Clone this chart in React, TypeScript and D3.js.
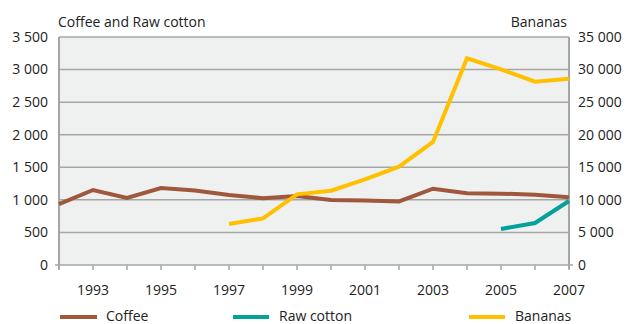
import React from "react";
import * as d3 from "d3";

const years = [1992,1993,1994,1995,1996,1997,1998,1999,2000,2001,2002,2003,2004,2005,2006,2007];
const coffee = [936,1151,1028,1182,1145,1075,1025,1060,998,990,975,1171,1100,1095,1080,1040];
const cottonYears = [2005,2006,2007];
const cotton = [553,645,982];
const bananaYears = [1997,1998,1999,2000,2001,2002,2003,2004,2005,2006,2007];
const bananas = [6290,7160,10850,11400,13150,15100,18900,31730,30040,28140,28600];
const leftTicks = [0,500,1000,1500,2000,2500,3000,3500];
const rightTicks = [0,5000,10000,15000,20000,25000,30000,35000];
const yearLabels = [1993,1995,1997,1999,2001,2003,2005,2007];

const W = 631, H = 324;
const L = 59, R = 569, T = 37, B = 265;
const FONT = "'Open Sans', 'Noto Sans', sans-serif";
const GRID = "#a6a6a6";
const fmt = (v: number) => d3.format(",")(v).replace(/,/g, " ");

export default function App() {
  const x = d3.scaleLinear().domain([1992, 2007]).range([L, R]);
  const yL = d3.scaleLinear().domain([0, 3500]).range([B, T]);
  const yR = d3.scaleLinear().domain([0, 35000]).range([B, T]);
  const lineL = d3.line<[number, number]>().x(d => x(d[0])).y(d => yL(d[1]));
  const lineR = d3.line<[number, number]>().x(d => x(d[0])).y(d => yR(d[1]));
  const coffeeD = lineL(years.map((y, i) => [y, coffee[i]]) as [number, number][])!;
  const cottonD = lineL(cottonYears.map((y, i) => [y, cotton[i]]) as [number, number][])!;
  const bananaD = lineR(bananaYears.map((y, i) => [y, bananas[i]]) as [number, number][])!;
  const legend = [
    { label: "Coffee", color: "#a0583c", x1: 60, x2: 97, tx: 106 },
    { label: "Raw cotton", color: "#00a29a", x1: 233, x2: 269, tx: 279 },
    { label: "Bananas", color: "#ffc000", x1: 469, x2: 505, tx: 515 },
  ];
  return (
    <svg width={W} height={H} style={{ position: "absolute", left: 0, top: 0 }} fontFamily={FONT}>
      <rect x={0} y={0} width={W} height={H} fill="#fff" />
      <rect x={L} y={T} width={R - L} height={B - T} fill="#eff0f0" />
      {leftTicks.map(t => (
        <line key={"g" + t} x1={L} x2={R} y1={yL(t)} y2={yL(t)} stroke={GRID} strokeWidth={1.5} />
      ))}
      <line x1={L} x2={L} y1={T} y2={B + 4} stroke={GRID} strokeWidth={2} />
      <line x1={R} x2={R} y1={T} y2={B + 4} stroke={GRID} strokeWidth={2} />
      <line x1={L - 4} x2={L} y1={B} y2={B} stroke={GRID} strokeWidth={1.5} />
      <line x1={R} x2={R + 4} y1={B} y2={B} stroke={GRID} strokeWidth={1.5} />
      {years.map(y => (
        <line key={"t" + y} x1={x(y)} x2={x(y)} y1={B} y2={B + 5} stroke={GRID} strokeWidth={1.5} />
      ))}
      {leftTicks.map(t => (
        <text key={"l" + t} x={48} y={yL(t)} dy="0.35em" textAnchor="end" fontSize={14} fill="#222">{fmt(t)}</text>
      ))}
      {rightTicks.map(t => (
        <text key={"r" + t} x={578} y={yR(t)} dy="0.35em" textAnchor="start" fontSize={14} fill="#222">{fmt(t)}</text>
      ))}
      {yearLabels.map(y => (
        <text key={"y" + y} x={x(y)} y={295} textAnchor="middle" fontSize={14} fill="#222">{y}</text>
      ))}
      <text x={58} y={27} fontSize={14} fill="#222">Coffee and Raw cotton</text>
      <text x={567} y={27} textAnchor="end" fontSize={14} fill="#222">Bananas</text>
      <path d={coffeeD} fill="none" stroke="#a0583c" strokeWidth={4} strokeLinejoin="miter" />
      <path d={cottonD} fill="none" stroke="#00a29a" strokeWidth={4} />
      <path d={bananaD} fill="none" stroke="#ffc000" strokeWidth={4} />
      {legend.map(l => (
        <g key={l.label}>
          <line x1={l.x1} x2={l.x2} y1={317} y2={317} stroke={l.color} strokeWidth={4} />
          <text x={l.tx} y={321} fontSize={14} fill="#222">{l.label}</text>
        </g>
      ))}
    </svg>
  );
}
